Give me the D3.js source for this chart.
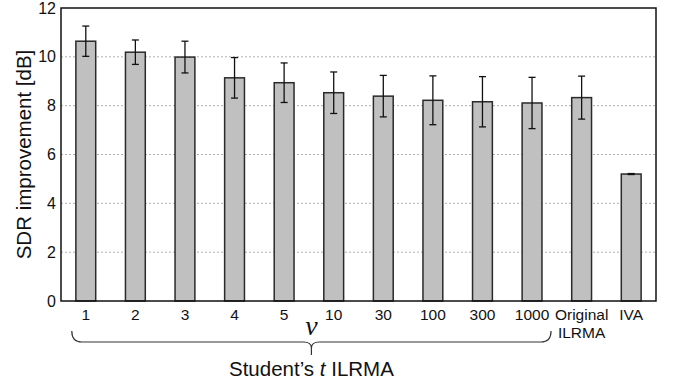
<!DOCTYPE html>
<html>
<head>
<meta charset="utf-8">
<script src="https://cdn.jsdelivr.net/npm/d3@7"></script>
<style>
  body { margin: 0; background: #fff; }
  text { font-family: "Liberation Sans", Arial, sans-serif; fill: #111; }
</style>
</head>
<body>
<div id="chart"></div>
<script>
// categories and values
var categories = ["1", "2", "3", "4", "5", "10", "30", "100", "300", "1000", "Original ILRMA", "IVA"]
var tickLabels = [["1"], ["2"], ["3"], ["4"], ["5"], ["10"], ["30"], ["100"], ["300"], ["1000"], ["Original", "ILRMA"], ["IVA"]]
var sdrMeans = [10.64, 10.19, 9.99, 9.14, 8.94, 8.53, 8.39, 8.22, 8.16, 8.11, 8.33, 5.20]
var sdrErrors = [0.62, 0.50, 0.65, 0.83, 0.81, 0.85, 0.85, 1.00, 1.03, 1.05, 0.88, 0.02]
var yTicks = [0, 2, 4, 6, 8, 10, 12]

var W = 675, H = 389
var margin = { top: 8, right: 19, bottom: 88, left: 61 }
var plotW = W - margin.left - margin.right
var plotH = H - margin.top - margin.bottom

var svg = d3.select("#chart").append("svg")
  .attr("width", W)
  .attr("height", H)

var g = svg.append("g")
  .attr("transform", "translate(" + margin.left + "," + margin.top + ")")

var x = d3.scaleBand()
  .domain(categories)
  .range([0, plotW])
  .paddingInner(0.6)
  .paddingOuter(0.3)

var y = d3.scaleLinear()
  .domain([0, 12])
  .range([plotH, 0])

// dotted grid lines
g.selectAll(".grid")
  .data(yTicks.filter(function(d) { return d > 0 && d < 12 }))
  .enter().append("line")
  .attr("x1", 0)
  .attr("x2", plotW)
  .attr("y1", function(d) { return y(d) })
  .attr("y2", function(d) { return y(d) })
  .style("stroke", "#9a9a9a")
  .style("stroke-width", 0.8)
  .style("stroke-dasharray", "2,2")

var data = categories.map(function(c, i) {
  return { cat: c, v: sdrMeans[i], e: sdrErrors[i] }
})

// bars
g.selectAll(".bar")
  .data(data)
  .enter().append("rect")
  .attr("x", function(d) { return x(d.cat) })
  .attr("y", function(d) { return y(d.v) })
  .attr("width", x.bandwidth())
  .attr("height", function(d) { return y(0) - y(d.v) })
  .style("fill", "#c0c0c0")
  .style("stroke", "#2a2a2a")
  .style("stroke-width", 1.5)

// error bars
var capHalf = 3.5
var eb = g.selectAll(".err")
  .data(data)
  .enter().append("g")
  .style("stroke", "#111")
  .style("stroke-width", 1.3)
eb.append("line")
  .attr("x1", function(d) { return x(d.cat) + x.bandwidth() / 2 })
  .attr("x2", function(d) { return x(d.cat) + x.bandwidth() / 2 })
  .attr("y1", function(d) { return y(d.v - d.e) })
  .attr("y2", function(d) { return y(d.v + d.e) })
eb.append("line")
  .attr("x1", function(d) { return x(d.cat) + x.bandwidth() / 2 - capHalf })
  .attr("x2", function(d) { return x(d.cat) + x.bandwidth() / 2 + capHalf })
  .attr("y1", function(d) { return y(d.v + d.e) })
  .attr("y2", function(d) { return y(d.v + d.e) })
eb.append("line")
  .attr("x1", function(d) { return x(d.cat) + x.bandwidth() / 2 - capHalf })
  .attr("x2", function(d) { return x(d.cat) + x.bandwidth() / 2 + capHalf })
  .attr("y1", function(d) { return y(d.v - d.e) })
  .attr("y2", function(d) { return y(d.v - d.e) })

// frame
g.append("rect")
  .attr("x", 0).attr("y", 0)
  .attr("width", plotW).attr("height", plotH)
  .style("fill", "none")
  .style("stroke", "#111")
  .style("stroke-width", 1.5)

// y axis labels
var yAxis = g.append("g")
  .call(d3.axisLeft(y).tickValues(yTicks).tickSize(0).tickPadding(5))
yAxis.select(".domain").remove()
yAxis.selectAll("text")
  .style("font-size", "16px")
  .style("font-family", "'Liberation Sans', Arial, sans-serif")
  .attr("fill", "#111")

// x tick labels (some on two lines)
var xl = g.selectAll(".xl")
  .data(data)
  .enter().append("text")
  .attr("text-anchor", "middle")
  .attr("transform", function(d) { return "translate(" + (x(d.cat) + x.bandwidth() / 2) + "," + (plotH + 19) + ")" })
  .style("font-size", "15.5px")
xl.selectAll("tspan")
  .data(function(d, i) { return tickLabels[i] })
  .enter().append("tspan")
  .attr("x", 0)
  .attr("dy", function(d, i) { return i === 0 ? 0 : 17.5 })
  .text(function(d) { return d })

// y title
svg.append("text")
  .attr("transform", "translate(31," + (margin.top + plotH / 2) + ") rotate(-90)")
  .attr("text-anchor", "middle")
  .style("font-size", "20.5px")
  .text("SDR improvement [dB]")

// brace under the Student's t group
var bx0 = margin.left + x("1") + x.bandwidth() / 2 - 14
var bx1 = margin.left + x("1000") + x.bandwidth() / 2 + 19
var bmid = (bx0 + bx1) / 2
var byTop = 331, byLine = 342, byTip = 355
var brace = d3.path()
brace.moveTo(bx0, byTop)
brace.quadraticCurveTo(bx0, byLine, bx0 + 10, byLine)
brace.lineTo(bmid - 8, byLine)
brace.quadraticCurveTo(bmid, byLine, bmid, byLine + 6)
brace.lineTo(bmid, byTip)
brace.moveTo(bx1, byTop)
brace.quadraticCurveTo(bx1, byLine, bx1 - 10, byLine)
brace.lineTo(bmid + 8, byLine)
brace.quadraticCurveTo(bmid, byLine, bmid, byLine + 6)
svg.append("path")
  .attr("d", brace.toString())
  .style("fill", "none")
  .style("stroke", "#333")
  .style("stroke-width", 1.2)

// nu symbol
svg.append("text")
  .attr("x", bmid)
  .attr("y", 335)
  .attr("text-anchor", "middle")
  .style("font-family", "'Liberation Serif', 'Times New Roman', serif")
  .style("font-style", "italic")
  .style("font-size", "28px")
  .text("\u03BD")

// group label
var gl = svg.append("text")
  .attr("x", bmid)
  .attr("y", 376)
  .attr("text-anchor", "middle")
  .style("font-size", "20.5px")
gl.append("tspan").text("Student\u2019s ")
gl.append("tspan").style("font-style", "italic").text("t")
gl.append("tspan").text(" ILRMA")
</script>
</body>
</html>
